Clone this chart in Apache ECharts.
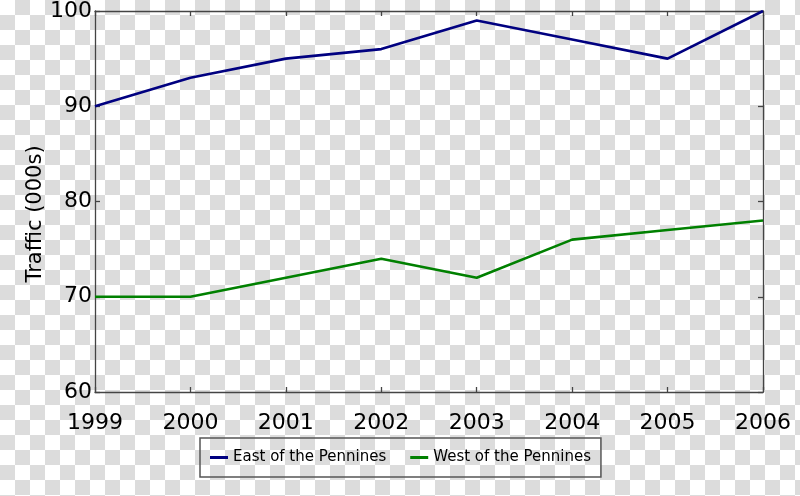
<!DOCTYPE html>
<html>
<head>
<meta charset="utf-8">
<script src="https://cdn.jsdelivr.net/npm/echarts@6/dist/echarts.min.js"></script>
<style>
  html, body { margin: 0; padding: 0; }
  body {
    width: 800px; height: 496px; overflow: hidden;
    background: repeating-conic-gradient(#dcdcdc 0 25%, #ffffff 0 50%) 0 0 / 30px 30px;
  }
  #chart { width: 800px; height: 496px; }
</style>
</head>
<body>
<div id="chart"></div>
<script>
const years = ['1999', '2000', '2001', '2002', '2003', '2004', '2005', '2006'];
const eastValues = [90, 93, 95, 96, 99, 97, 95, 100];
const westValues = [70, 70, 72, 74, 72, 76, 77, 78];
const seriesNames = ['East of the Pennines', 'West of the Pennines'];
const yAxisTitle = 'Traffic (000s)';

const FONT = 'DejaVu Sans';
const axisLineStyle = { color: '#444', width: 1.3 };

const chart = echarts.init(document.getElementById('chart'), null, { renderer: 'canvas' });
chart.setOption({
  backgroundColor: 'transparent',
  animation: false,
  grid: { left: 95, right: 37, top: 10, bottom: 104, containLabel: false },
  legend: {
    data: seriesNames,
    left: 200,
    top: 438,
    orient: 'horizontal',
    icon: 'rect',
    itemWidth: 18,
    itemHeight: 3,
    itemGap: 24,
    padding: [12, 10, 12, 10],
    borderColor: '#555',
    borderWidth: 1.5,
    borderRadius: 0,
    backgroundColor: 'transparent',
    textStyle: { fontFamily: FONT, fontSize: 15, color: '#000' }
  },
  xAxis: [
    {
      type: 'category', data: years, boundaryGap: false, position: 'bottom',
      axisLine: { show: true, lineStyle: axisLineStyle },
      axisTick: { show: true, inside: true, length: 5, lineStyle: axisLineStyle },
      axisLabel: { fontFamily: FONT, fontSize: 22, color: '#000', margin: 20 },
      splitLine: { show: false }
    },
    {
      type: 'category', data: years, boundaryGap: false, position: 'top',
      axisLine: { show: true, lineStyle: axisLineStyle },
      axisTick: { show: true, inside: true, length: 5, lineStyle: axisLineStyle },
      axisLabel: { show: false },
      splitLine: { show: false }
    }
  ],
  yAxis: [
    {
      type: 'value', min: 60, max: 100, interval: 10, position: 'left',
      name: yAxisTitle, nameLocation: 'middle', nameGap: 59, nameRotate: 90,
      nameMoveOverlap: false,
      nameTextStyle: { fontFamily: FONT, fontSize: 21, color: '#000', verticalAlign: 'middle', padding: [0, 0, 0, -25] },
      axisLine: { show: true, lineStyle: axisLineStyle },
      axisTick: { show: true, inside: true, length: 5, lineStyle: axisLineStyle },
      axisLabel: { fontFamily: FONT, fontSize: 22, color: '#000', margin: 3, padding: [13, 0, 0, 0] },
      splitLine: { show: false }
    },
    {
      type: 'value', min: 60, max: 100, interval: 10, position: 'right',
      axisLine: { show: true, lineStyle: axisLineStyle },
      axisTick: { show: true, inside: true, length: 5, lineStyle: axisLineStyle },
      axisLabel: { show: false },
      splitLine: { show: false }
    }
  ],
  series: [
    {
      name: seriesNames[0], type: 'line', data: eastValues,
      xAxisIndex: 0, yAxisIndex: 0,
      symbol: 'none', lineStyle: { color: '#000080', width: 2.6 }, itemStyle: { color: '#000080' }
    },
    {
      name: seriesNames[1], type: 'line', data: westValues,
      xAxisIndex: 0, yAxisIndex: 0,
      symbol: 'none', lineStyle: { color: '#008000', width: 2.6 }, itemStyle: { color: '#008000' }
    }
  ]
});
</script>
</body>
</html>
